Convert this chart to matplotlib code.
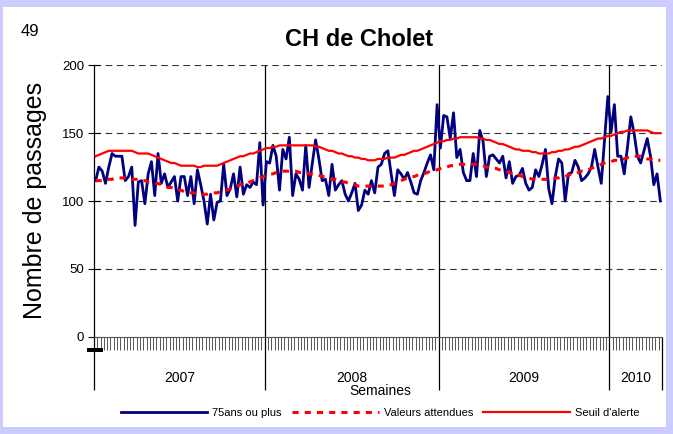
import numpy as np
import matplotlib
matplotlib.use("Agg")
import matplotlib.pyplot as plt
from matplotlib.lines import Line2D
from matplotlib.patches import Rectangle

plt.rcParams['font.family'] = ['Liberation Sans', 'DejaVu Sans']

# ── data: weekly ED visits, patients aged 75+, CH de Cholet ───────────────────
years   = ["2007", "2008", "2009", "2010"]
n_weeks = [52, 53, 52, 16]

passages_2007 = [115, 125, 122, 113, 125, 135, 133, 133, 133, 115, 118, 125, 82, 114,
                 115, 98, 120, 129, 104, 135, 113, 120, 110, 114, 118, 100, 118, 118,
                 104, 118, 98, 123, 112, 100, 83, 105, 86, 99, 100, 127, 104, 109, 120,
                 103, 125, 105, 112, 110, 114, 112, 143, 97]
passages_2008 = [129, 128, 141, 133, 108, 138, 131, 147, 104, 120, 116, 108, 141, 110,
                 128, 145, 131, 115, 116, 104, 127, 108, 112, 115, 105, 100, 106, 113,
                 93, 97, 108, 105, 115, 106, 125, 127, 135, 137, 120, 104, 123, 120, 116,
                 121, 114, 106, 105, 115, 121, 128, 134, 123, 171]
passages_2009 = [139, 163, 162, 146, 165, 132, 138, 121, 115, 115, 135, 118, 152, 144,
                 118, 133, 134, 131, 128, 133, 117, 129, 113, 118, 119, 124, 113, 108,
                 110, 123, 118, 127, 138, 109, 98, 118, 131, 128, 100, 120, 121, 130,
                 125, 115, 117, 120, 125, 138, 125, 113, 145, 177]
passages_2010 = [151, 171, 133, 133, 120, 140, 162, 150, 133, 128, 137, 146, 133, 112,
                 120, 100]

attendu_2007 = [115, 115, 115, 116, 116, 116, 117, 117, 117, 117, 117, 116, 116, 116,
                115, 115, 114, 114, 113, 113, 112, 111, 110, 110, 109, 108, 108, 107,
                107, 106, 106, 105, 105, 105, 105, 106, 106, 106, 107, 108, 108, 109,
                110, 111, 112, 112, 113, 114, 115, 116, 117, 118]
attendu_2008 = [119, 120, 120, 121, 121, 122, 122, 122, 122, 122, 121, 121, 121, 120,
                120, 120, 119, 118, 118, 117, 116, 116, 115, 114, 114, 113, 112, 112,
                111, 111, 111, 111, 111, 111, 111, 111, 111, 112, 112, 113, 114, 115,
                116, 117, 118, 118, 119, 120, 120, 121, 122, 122, 123]
attendu_2009 = [124, 125, 125, 126, 126, 127, 127, 127, 127, 127, 127, 127, 126, 126,
                125, 125, 124, 124, 123, 122, 122, 121, 120, 120, 119, 118, 118, 117,
                116, 116, 116, 116, 116, 116, 116, 117, 117, 118, 118, 119, 120, 120,
                121, 122, 122, 123, 124, 125, 126, 127, 128, 129]
attendu_2010 = [129, 130, 130, 131, 131, 132, 132, 133, 133, 133, 132, 131, 131, 130,
                130, 130]

seuil_2007 = [133, 134, 135, 136, 137, 137, 137, 137, 137, 137, 137, 137, 136, 135,
              135, 135, 135, 134, 133, 132, 131, 130, 129, 128, 128, 127, 126, 126,
              126, 126, 126, 125, 125, 126, 126, 126, 126, 126, 127, 128, 129, 130,
              131, 132, 133, 133, 134, 135, 135, 136, 137, 138]
seuil_2008 = [139, 139, 140, 140, 141, 141, 141, 141, 141, 141, 141, 141, 141, 141,
              141, 140, 140, 139, 138, 137, 137, 136, 135, 135, 134, 133, 133, 132,
              132, 131, 131, 130, 130, 130, 131, 131, 131, 132, 132, 132, 133, 134,
              134, 135, 136, 137, 137, 138, 139, 140, 141, 142, 143]
seuil_2009 = [144, 144, 145, 145, 146, 146, 147, 147, 147, 147, 147, 147, 146, 146,
              145, 145, 144, 143, 142, 142, 141, 140, 139, 138, 138, 137, 137, 137,
              136, 136, 135, 135, 135, 135, 136, 136, 137, 137, 138, 138, 139, 140,
              140, 141, 142, 143, 144, 145, 146, 146, 147, 148]
seuil_2010 = [148, 149, 150, 151, 151, 152, 152, 152, 152, 152, 152, 152, 151, 150,
              150, 150]

passages = np.array(passages_2007 + passages_2008 + passages_2009 + passages_2010)
attendu  = np.array(attendu_2007 + attendu_2008 + attendu_2009 + attendu_2010)
seuil    = np.array(seuil_2007 + seuil_2008 + seuil_2009 + seuil_2010)
N = len(passages)
x = np.arange(N)

NAVY, RED = "#000080", "#FF0000"
W, H = 673, 434

fig = plt.figure(figsize=(W / 100, H / 100), dpi=100, facecolor="#CCCCFF")
fig.patches.append(Rectangle((3 / W, 1 - 427 / H), 663 / W, 420 / H, transform=fig.transFigure,
                             facecolor="white", edgecolor="none", zorder=-1))
ax = fig.add_axes([94 / W, 1 - 336.7 / H, 568 / W, 271.4 / H])
ax.set_facecolor("white")

for v in [50, 100, 150, 200]:
    ax.axhline(v, color="#333333", lw=0.8, dashes=(6, 4), zorder=1)

ax.plot(x, passages, color=NAVY, lw=2.0, zorder=3)
ax.plot(x, attendu, color=RED, lw=2.2, dashes=(2, 2), zorder=4)
ax.plot(x, seuil, color=RED, lw=1.6, zorder=5)

ax.set_ylim(0, 200)
ax.set_xlim(-0.5, N - 0.5)
ax.set_yticks([0, 50, 100, 150, 200])
ax.tick_params(axis="y", direction="inout", length=8, width=0.8, labelsize=9.5, pad=3)
ax.set_xticks(np.arange(N + 1) - 0.5)
ax.set_xticklabels([])
ax.tick_params(axis="x", direction="out", length=9.5, width=0.7, color="#555555")
ax.spines[["top", "right"]].set_visible(False)
ax.spines["left"].set_linewidth(0.9)
ax.spines["bottom"].set_color("#555555")

# year separators, running below the axis through the year labels
starts = np.concatenate([[0], np.cumsum(n_weeks)[:-1]])
bounds = np.cumsum(n_weeks)[:-1] - 0.5
ax.vlines(bounds, -0.196, 1, transform=ax.get_xaxis_transform(), colors="black", lw=0.9,
          clip_on=False, zorder=2)
ax.vlines([-0.5, N - 0.5], -0.196, 0, transform=ax.get_xaxis_transform(), colors="black",
          lw=0.9, clip_on=False)
for yr, s, n in zip(years, starts, n_weeks):
    ax.text(s + n / 2 - 0.5, -0.152, yr, transform=ax.get_xaxis_transform(),
            ha="center", va="center", fontsize=10)

fig.text(380 / W, 1 - 391 / H, "Semaines", ha="center", va="center", fontsize=10)
fig.text(359 / W, 1 - 40 / H, "CH de Cholet", ha="center", va="center", fontsize=17,
         fontweight="bold")
fig.text(30 / W, 1 - 31 / H, "49", ha="center", va="center", fontsize=12)
fig.text(35 / W, 1 - 200 / H, "Nombre de passages", rotation=90, ha="center", va="center",
         fontsize=18)
fig.patches.append(Rectangle((86.7 / W, 1 - 352 / H), 16 / W, 4 / H, transform=fig.transFigure,
                             facecolor="black", edgecolor="none"))

handles = [Line2D([], [], color=NAVY, lw=2.0),
           Line2D([], [], color=RED, lw=2.2, dashes=(2, 2)),
           Line2D([], [], color=RED, lw=1.6)]
labels = ["75ans ou plus", "Valeurs attendues", "Seuil d'alerte"]
fig.legend(handles, labels, loc="center", bbox_to_anchor=(380 / W, 1 - 413 / H), ncol=3,
           frameon=False, fontsize=8, handlelength=7.8, handletextpad=0.45, columnspacing=0.9)

fig.savefig("out.png", dpi=100, facecolor=fig.get_facecolor())
